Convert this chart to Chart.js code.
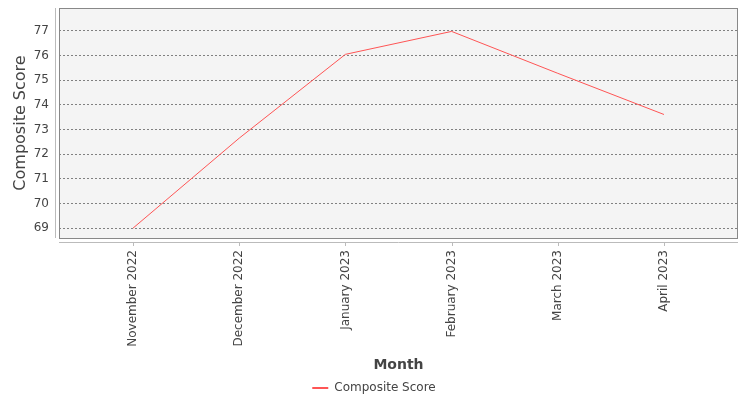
<!DOCTYPE html>
<html>
<head>
<meta charset="utf-8">
<script src="https://cdn.jsdelivr.net/npm/chart.js@4.4.1/dist/chart.umd.min.js"></script>
<style>
  html, body { margin: 0; padding: 0; background: #ffffff; }
  #wrap { width: 750px; height: 400px; }
</style>
</head>
<body>
<div id="wrap"><canvas id="scoreChart" width="750" height="400"></canvas></div>
<script>
// Chart data
const months = ['November 2022', 'December 2022', 'January 2023', 'February 2023', 'March 2023', 'April 2023'];
const compositeScores = [69.0, 72.65, 76.05, 76.98, 75.28, 73.61];
const yTickValues = [69, 70, 71, 72, 73, 74, 75, 76, 77];

const textColor = '#444444';
const fontFamily = "'DejaVu Sans', sans-serif";

// Draws the plot background, outline and the detached axis lines
const framePlugin = {
    id: 'frame',
    beforeDraw(chart) {
        const { ctx, chartArea: a } = chart;
        ctx.save();
        ctx.fillStyle = '#f4f4f4';
        ctx.fillRect(a.left, a.top, a.right - a.left, a.bottom - a.top);
        ctx.restore();
    },
    afterDraw(chart) {
        const { ctx, chartArea: a } = chart;
        const xScale = chart.scales.x;
        ctx.save();
        // plot outline
        ctx.strokeStyle = '#888888';
        ctx.lineWidth = 1;
        ctx.strokeRect(a.left + 0.5, a.top + 0.5, a.right - a.left - 1, a.bottom - a.top);
        // axis lines, a few pixels away from the plot
        ctx.strokeStyle = '#bbbbbb';
        ctx.beginPath();
        ctx.moveTo(a.left - 3.5, a.top);
        ctx.lineTo(a.left - 3.5, a.bottom);
        ctx.moveTo(a.left, a.bottom + 4.5);
        ctx.lineTo(a.right, a.bottom + 4.5);
        // x tick marks
        xScale.ticks.forEach(t => {
            const px = Math.round(xScale.getPixelForValue(t.value)) + 0.5;
            ctx.moveTo(px, a.bottom + 4);
            ctx.lineTo(px, a.bottom + 8);
        });
        ctx.stroke();
        ctx.restore();
    }
};

const ctx = document.getElementById('scoreChart').getContext('2d');
new Chart(ctx, {
    type: 'line',
    data: {
        datasets: [{
            label: 'Composite Score',
            data: compositeScores.map((v, i) => ({ x: i, y: v })),
            borderColor: '#ff5555',
            backgroundColor: '#ff5555',
            borderWidth: 1,
            pointRadius: 0,
            tension: 0,
            fill: false
        }]
    },
    options: {
        responsive: false,
        animation: false,
        devicePixelRatio: 1,
        layout: { padding: { top: 8, right: 2, left: 0, bottom: -4 } },
        plugins: {
            legend: {
                position: 'bottom',
                labels: {
                    usePointStyle: true,
                    pointStyle: 'line',
                    pointStyleWidth: 16,
                    color: textColor,
                    padding: 3,
                    font: { family: fontFamily, size: 12 },
                    // slightly heavier marker line in the legend
                    generateLabels: chart => {
                        const items = Chart.defaults.plugins.legend.labels.generateLabels(chart);
                        items.forEach(it => { it.lineWidth = 2; });
                        return items;
                    }
                }
            },
            tooltip: { enabled: false }
        },
        scales: {
            x: {
                type: 'linear',
                min: -0.697,
                max: 5.697,
                afterBuildTicks: scale => {
                    scale.ticks = months.map((m, i) => ({ value: i }));
                },
                afterFit: scale => {
                    scale.height = 141;
                    scale.paddingLeft = 0;
                    scale.paddingRight = 0;
                },
                grid: { display: false },
                border: { display: false },
                ticks: {
                    autoSkip: false,
                    minRotation: 90,
                    maxRotation: 90,
                    padding: 4,
                    color: textColor,
                    font: { family: fontFamily, size: 12 },
                    callback: v => months[v]
                },
                title: {
                    display: true,
                    text: 'Month',
                    color: textColor,
                    padding: { top: 0, bottom: 5 },
                    font: { family: fontFamily, size: 14, weight: 'bold' }
                }
            },
            y: {
                min: 68.6,
                max: 77.93,
                afterBuildTicks: scale => {
                    scale.ticks = yTickValues.map(v => ({ value: v }));
                },
                afterFit: scale => {
                    scale.width = 59;
                    scale.paddingTop = 0;
                    scale.paddingBottom = 0;
                },
                grid: {
                    color: '#808080',
                    lineWidth: 1,
                    drawTicks: false
                },
                border: { display: false, dash: [2, 2] },
                ticks: {
                    padding: 10,
                    color: textColor,
                    font: { family: fontFamily, size: 12 }
                },
                title: {
                    display: true,
                    text: 'Composite Score',
                    color: textColor,
                    padding: { top: 11, bottom: 0 },
                    font: { family: fontFamily, size: 16 }
                }
            },
            // empty right-hand spacer so the legend centres like the original
            spacer: {
                position: 'right',
                display: true,
                afterFit: scale => { scale.width = 10; },
                grid: { display: false },
                border: { display: false },
                ticks: { display: false }
            }
        }
    },
    plugins: [framePlugin]
});
</script>
</body>
</html>
